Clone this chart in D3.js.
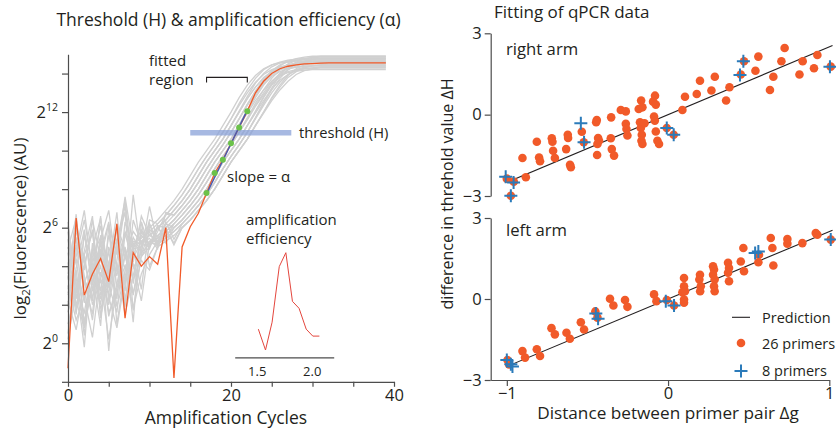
<!DOCTYPE html>
<html><head><meta charset="utf-8">
<script src="https://cdn.jsdelivr.net/npm/d3@7"></script>
<style>
body{margin:0;background:#fff;}
text{font-family:"Open Sans",sans-serif;fill:#231f20;}
</style></head><body>
<svg id="c" width="836" height="432"></svg>
<script>
// ---------------- Left panel data (log2 fluorescence per cycle 0..39) ----------------
const greyCurves = [
[2.8,5.9,3.5,1.2,4.7,6.3,2.9,4.6,5.15,5.45,5.8,6.2,6.65,7.15,7.7,8.35,9.05,9.7,10.3,10.95,11.65,12.45,13.15,13.75,14.2,14.45,14.6,14.7,14.75,14.8,14.8,14.8,14.8,14.8,14.8,14.8,14.8,14.8,14.8,14.8],
[4.2,1.5,5.8,3.0,6.6,2.2,5.0,3.9,5.0,5.3,5.6,6.0,6.4,6.9,7.4,8.0,8.7,9.4,10.0,10.6,11.3,12.0,12.7,13.3,13.75,14.05,14.2,14.3,14.35,14.4,14.4,14.4,14.4,14.4,14.4,14.4,14.4,14.4,14.4,14.4],
[6.1,3.4,0.8,4.9,2.7,5.6,4.0,1.9,5.3,5.15,5.9,5.5,6.2,6.65,7.15,7.7,8.35,9.05,9.7,10.3,10.95,11.65,12.4,13.05,13.65,14.05,14.3,14.45,14.52,14.57,14.6,14.6,14.6,14.6,14.6,14.6,14.6,14.6,14.6,14.6],
[1.9,4.8,6.9,3.7,5.2,-0.4,4.3,7.2,3.1,5.8,4.9,6.1,6.0,6.4,6.9,7.4,8.0,8.7,9.4,10.0,10.6,11.35,12.1,12.85,13.5,14.05,14.4,14.65,14.78,14.85,14.9,14.9,14.9,14.9,14.9,14.9,14.9,14.9,14.9,14.9],
[5.4,2.6,4.0,5.9,1.4,3.6,6.2,4.8,2.5,5.1,5.15,6.0,5.5,6.2,6.65,7.15,7.7,8.35,9.05,9.7,10.3,10.95,11.6,12.3,12.9,13.45,13.85,14.1,14.2,14.25,14.3,14.3,14.3,14.3,14.3,14.3,14.3,14.3,14.3,14.3],
[3.3,6.7,2.1,4.5,5.5,3.0,1.6,5.7,4.2,6.6,5.6,5.3,6.2,6.0,6.4,6.9,7.4,8.0,8.7,9.4,10.0,10.6,11.3,12.0,12.75,13.4,13.9,14.2,14.4,14.5,14.55,14.6,14.6,14.6,14.6,14.6,14.6,14.6,14.6,14.6],
[4.7,2.3,5.6,3.6,0.9,6.1,4.6,7.6,5.0,2.8,6.2,5.15,5.45,5.8,6.2,6.65,7.15,7.7,8.35,9.05,9.7,10.3,10.95,11.7,12.45,13.15,13.75,14.2,14.5,14.65,14.75,14.8,14.8,14.8,14.8,14.8,14.8,14.8,14.8,14.8],
[2.0,5.1,3.8,6.4,4.4,2.9,5.3,6.8,1.7,4.6,5.8,5.0,5.9,5.2,6.0,6.4,6.9,7.4,8.0,8.7,9.4,10.0,10.6,11.3,12.0,12.7,13.3,13.8,14.1,14.3,14.4,14.45,14.5,14.5,14.5,14.5,14.5,14.5,14.5,14.5],
[5.0,3.1,-0.2,4.9,6.5,3.4,5.9,4.5,5.8,5.2,6.0,6.4,6.9,7.4,8.0,8.7,9.4,10.0,10.6,11.3,12.0,12.75,13.4,13.9,14.25,14.45,14.55,14.6,14.65,14.65,14.65,14.65,14.65,14.65,14.65,14.65,14.65,14.65,14.65,14.65],
[3.6,6.0,4.3,2.2,5.4,6.9,3.7,4.9,1.1,6.3,5.0,5.8,6.7,6.65,7.15,7.7,8.35,9.05,9.7,10.3,10.95,11.65,12.35,12.95,13.45,13.85,14.1,14.25,14.32,14.37,14.4,14.4,14.4,14.4,14.4,14.4,14.4,14.4,14.4,14.4],
[6.3,1.8,4.6,5.7,3.3,2.6,5.2,7.4,3.9,4.7,5.15,5.45,5.8,6.2,6.65,7.15,7.7,8.35,9.05,9.7,10.3,10.95,11.7,12.45,13.15,13.75,14.2,14.5,14.68,14.78,14.82,14.85,14.85,14.85,14.85,14.85,14.85,14.85,14.85,14.85],
[0.5,3.9,5.9,2.7,4.4,6.2,1.0,3.8,5.5,4.7,7.1,5.15,6.3,5.4,6.2,6.65,7.15,7.7,8.35,9.05,9.7,10.3,10.95,11.65,12.35,13.0,13.55,13.95,14.2,14.33,14.4,14.45,14.45,14.45,14.45,14.45,14.45,14.45,14.45,14.45],
[4.9,6.5,3.2,1.5,5.6,4.1,2.3,6.3,5.0,5.9,5.1,6.0,6.4,6.9,7.4,8.0,8.7,9.4,10.0,10.6,11.3,12.05,12.8,13.5,14.0,14.35,14.55,14.65,14.7,14.75,14.75,14.75,14.75,14.75,14.75,14.75,14.75,14.75,14.75,14.75],
[2.5,4.5,6.4,3.9,2.0,5.0,3.5,5.8,4.9,5.0,6.2,5.0,6.0,6.4,6.9,7.4,8.0,8.7,9.4,10.0,10.6,11.3,11.95,12.6,13.15,13.6,13.9,14.05,14.13,14.17,14.2,14.2,14.2,14.2,14.2,14.2,14.2,14.2,14.2,14.2],
[5.8,2.9,4.8,6.6,1.3,4.2,5.4,3.0,7.7,4.5,5.0,6.1,5.2,6.0,6.4,6.9,7.4,8.0,8.7,9.4,10.0,10.6,11.3,12.05,12.8,13.5,14.0,14.35,14.55,14.65,14.7,14.7,14.7,14.7,14.7,14.7,14.7,14.7,14.7,14.7],
[3.4,5.5,0.9,4.1,6.1,3.6,5.0,2.1,4.8,6.3,4.0,5.0,6.0,5.1,6.0,6.4,6.9,7.4,8.0,8.7,9.4,10.0,10.6,11.3,12.0,12.75,13.4,13.9,14.25,14.45,14.55,14.6,14.6,14.6,14.6,14.6,14.6,14.6,14.6,14.6],
[1.6,3.8,0.4,5.2,2.5,3.9,6.8,2.2,5.15,4.8,6.4,6.2,6.65,7.15,7.7,8.35,9.05,9.7,10.3,10.95,11.65,12.35,13.0,13.55,13.95,14.2,14.35,14.45,14.5,14.55,14.55,14.55,14.55,14.55,14.55,14.55,14.55,14.55,14.55,14.55],
[2.2,0.7,3.1,4.4,1.8,3.0,5.1,2.7,6.4,5.15,5.45,4.9,6.8,6.65,7.15,7.7,8.35,9.05,9.7,10.3,10.95,11.65,12.4,13.1,13.7,14.15,14.45,14.6,14.68,14.72,14.75,14.75,14.75,14.75,14.75,14.75,14.75,14.75,14.75,14.75],
[3.0,1.2,2.4,0.3,3.7,2.0,4.2,1.5,3.5,5.6,5.15,5.45,5.8,6.2,6.65,7.15,7.7,8.35,9.05,9.7,10.3,10.95,11.65,12.35,13.0,13.6,14.0,14.3,14.45,14.5,14.55,14.55,14.55,14.55,14.55,14.55,14.55,14.55,14.55,14.55],
[1.0,2.7,4.6,2.0,3.3,0.2,2.9,4.0,1.8,3.6,4.6,5.3,5.6,6.0,6.4,6.9,7.4,8.0,8.7,9.4,10.0,10.6,11.3,11.95,12.6,13.2,13.65,13.95,14.15,14.25,14.3,14.35,14.35,14.35,14.35,14.35,14.35,14.35,14.35,14.35],
[2.6,4.4,1.1,3.2,5.3,2.4,0.8,3.4,4.1,2.2,5.2,5.15,5.45,5.8,6.2,6.65,7.15,7.7,8.35,9.05,9.7,10.3,10.95,11.7,12.5,13.25,13.9,14.35,14.6,14.75,14.85,14.9,14.9,14.9,14.9,14.9,14.9,14.9,14.9,14.9],
[4.0,1.9,3.3,2.4,4.9,1.4,3.1,5.0,2.6,4.3,3.8,5.0,5.3,5.6,6.0,6.4,6.9,7.4,8.0,8.7,9.4,10.0,10.6,11.3,11.95,12.6,13.15,13.6,13.95,14.15,14.25,14.3,14.3,14.3,14.3,14.3,14.3,14.3,14.3,14.3],
[0.2,2.8,1.6,3.9,2.3,4.8,1.9,3.5,4.4,5.3,5.6,6.0,6.4,6.9,7.4,8.0,8.7,9.4,10.0,10.6,11.3,12.0,12.7,13.3,13.8,14.1,14.3,14.4,14.45,14.5,14.5,14.5,14.5,14.5,14.5,14.5,14.5,14.5,14.5,14.5],
[3.9,2.1,0.9,2.9,4.0,1.6,2.6,4.5,3.3,4.5,5.3,5.6,6.0,6.4,6.9,7.4,8.0,8.7,9.4,10.0,10.6,11.3,12.0,12.75,13.4,13.9,14.25,14.45,14.55,14.6,14.65,14.65,14.65,14.65,14.65,14.65,14.65,14.65,14.65,14.65]
];
const orangeCurve = [-1.3,6.5,2.5,3.6,4.4,3.2,6.2,1.3,4.7,4.0,4.5,4.1,6.0,-1.8,5.0,6.05,6.75,7.8,8.84,9.53,10.38,11.2,12.05,13.0,13.6,14.0,14.25,14.38,14.45,14.5,14.52,14.54,14.56,14.56,14.56,14.56,14.56,14.56,14.56,14.56];
const fitCycles = [17, 22];
const fitValues = [7.75, 12.1];
const dotCycles = [17, 18, 19, 20, 21, 22];
const dotValues = [7.8, 8.84, 9.53, 10.38, 11.2, 12.05];
const thresholdCycles = [15, 27.4];
const thresholdLevel = 10.93;
const bracketCycles = [17, 22];
const bracketLevel = 13.8;
const xTicksLeft = [0,5,10,15,20,25,30,35,40];
const xTickLabelsLeft = {0:"0",20:"20",40:"40"};
const yTicksLeft = [-2,0,2,4,6,8,10,12,14];
const yTickLabelsLeft = {0:"0",6:"6",12:"12"};
// inset: amplification efficiency distribution
const effBins = [1.515,1.58,1.64,1.705,1.765,1.825,1.885,1.95,2.01,2.07];
const effCounts = [3,0,4,12,14,7,6,3,2,2];
const effTicks = [1.5, 2.0];

// ---------------- Right panel data ----------------
const rightArmX = [-0.903,-0.882,-0.814,-0.800,-0.794,-0.721,-0.717,-0.713,-0.702,-0.632,-0.622,-0.620,-0.608,-0.603,-0.535,-0.523,-0.442,-0.446,-0.434,-0.428,-0.438,-0.440,-0.353,-0.355,-0.349,-0.335,-0.293,-0.262,-0.262,-0.258,-0.252,-0.182,-0.174,-0.169,-0.163,-0.165,-0.159,-0.167,-0.146,-0.093,-0.081,-0.087,-0.082,-0.076,-0.066,-0.056,-0.159,-0.076,-0.008,0.035,0.089,0.105,0.178,0.198,0.269,0.290,0.360,0.381,0.451,0.471,0.542,0.560,0.632,0.653,0.703,0.723,0.815,0.835,0.905,0.926,1.009,-1.0,-0.975,-0.957];
const rightArmY = [-1.60,-2.31,-1.00,-1.58,-1.72,-0.87,-1.00,-1.33,-1.60,-1.27,-0.74,-0.86,-1.85,-1.94,-0.63,-1.02,-0.20,-0.28,-0.86,-0.96,-1.08,-1.49,-0.10,-0.87,-1.27,-1.51,0.17,0.12,-0.34,-0.53,-0.77,0.21,-0.28,-0.49,-0.74,-0.96,-1.08,0.52,-0.32,0.48,0.70,-0.07,-0.22,-0.62,-0.96,-1.08,0.27,0.37,-0.49,-0.74,0.17,0.66,0.76,1.25,0.89,1.40,0.52,1.01,1.48,1.97,1.62,2.14,0.91,1.40,1.97,2.46,1.48,1.97,1.71,2.20,1.77,-2.36,-2.99,-2.47];
const rightPlusX = [-1.007,-0.958,-0.975,-0.541,-0.521,-0.008,0.035,0.446,0.467,1.004];
const rightPlusY = [-2.29,-2.50,-2.99,-0.32,-1.02,-0.49,-0.74,1.46,1.97,1.77];
const leftArmX = [-0.996,-0.986,-0.903,-0.887,-0.814,-0.794,-0.723,-0.702,-0.630,-0.609,-0.541,-0.521,-0.451,-0.438,-0.360,-0.339,-0.267,-0.252,-0.087,-0.072,-0.008,0.037,0.089,0.099,0.099,0.099,0.099,0.105,0.198,0.194,0.203,0.199,0.279,0.285,0.279,0.289,0.285,0.289,0.372,0.378,0.372,0.378,0.451,0.471,0.467,0.564,0.560,0.637,0.647,0.653,0.740,0.740,0.833,0.916,0.926,1.009];
const leftArmY = [-2.26,-2.42,-1.93,-2.17,-1.86,-2.11,-1.08,-1.31,-1.25,-1.47,-0.86,-1.13,-0.46,-0.69,0.01,-0.24,-0.04,-0.29,0.17,-0.08,-0.04,-0.24,0.25,0.78,0.47,-0.02,-0.14,0.29,0.90,0.72,0.47,0.29,1.21,1.09,0.90,0.72,0.47,0.29,1.34,1.15,0.97,0.66,1.39,1.03,1.89,1.64,1.36,2.26,1.89,1.24,2.22,2.05,2.07,2.44,2.38,2.20];
const leftPlusX = [-1.0,-0.975,-0.965,-0.448,-0.434,-0.014,0.037,0.540,0.560,1.009];
const leftPlusY = [-2.26,-2.42,-2.50,-0.54,-0.73,-0.08,-0.24,1.70,1.76,2.20];
const predX = [-1, 1.02];
const predY = [-2.5, 2.55];
const xTicksRight = [-1, 0, 1];
const yTicksRight = [-3, 0, 3];
const legendLabels = ["Prediction", "26 primers", "8 primers"];

// ---------------- Drawing ----------------
const svg = d3.select("#c");
const ORANGE = "#f15a29", BLUE = "#2b7bba", GREY = "#d0d0d0", AXIS = "#4d4d4d";
const minus = s => String(s).replace("-", "\u2212");

// Left panel scales
const xL = d3.scaleLinear().domain([0, 40]).range([68, 394]);
const yL = d3.scaleLinear().domain([-2, 15]).range([381.8, 54.3]);

const lineL = d3.line().x((d, i) => xL(i)).y(d => yL(d));
const gL = svg.append("g");
gL.selectAll("path.grey").data(greyCurves).join("path")
  .attr("d", lineL).attr("fill", "none").attr("stroke", GREY).attr("stroke-width", 1.3);

// threshold band
gL.append("line")
  .attr("x1", xL(thresholdCycles[0])).attr("x2", xL(thresholdCycles[1]))
  .attr("y1", yL(thresholdLevel)).attr("y2", yL(thresholdLevel))
  .attr("stroke", "#8aa2d8").attr("stroke-opacity", 0.75).attr("stroke-width", 5.5);

gL.append("path").attr("d", lineL(orangeCurve)).attr("fill", "none")
  .attr("stroke", ORANGE).attr("stroke-width", 1.3);

gL.append("line")
  .attr("x1", xL(fitCycles[0])).attr("x2", xL(fitCycles[1]))
  .attr("y1", yL(fitValues[0])).attr("y2", yL(fitValues[1]))
  .attr("stroke", "#4a5db0").attr("stroke-width", 1.5);

gL.selectAll("circle.g").data(dotCycles).join("circle")
  .attr("cx", d => xL(d)).attr("cy", (d, i) => yL(dotValues[i])).attr("r", 3)
  .attr("fill", "#6cc24a");

// bracket
const by = yL(bracketLevel);
gL.append("path")
  .attr("d", `M${xL(bracketCycles[0])},${by + 5}V${by}H${xL(bracketCycles[1])}V${by + 5}`)
  .attr("fill", "none").attr("stroke", "#231f20").attr("stroke-width", 1.1);

// axes left
const axXL = d3.axisBottom(xL).tickValues(xTicksLeft).tickSize(5).tickSizeOuter(0)
  .tickFormat(d => xTickLabelsLeft[d] || "");
const gxL = svg.append("g").attr("transform", `translate(0,${yL(-2)})`).call(axXL);
const axYL = d3.axisLeft(yL).tickValues(yTicksLeft).tickSize(6).tickSizeOuter(0).tickFormat("");
const gyL = svg.append("g").attr("transform", `translate(${xL(0)},0)`).call(axYL);
[gxL, gyL].forEach(g => {
  g.selectAll("path,line").attr("stroke", AXIS).attr("stroke-width", 1.2);
  g.selectAll("text").style("font-size", "16.5px").attr("fill", "#231f20");
});
gxL.selectAll("text").attr("dy", "0.66em");
// y tick labels with superscripts
yTicksLeft.filter(t => yTickLabelsLeft[t] !== undefined).forEach(t => {
  const tx = svg.append("text").attr("x", 58).attr("y", yL(t) + 5.5)
    .attr("text-anchor", "end").style("font-size", "16.5px");
  tx.append("tspan").text("2");
  tx.append("tspan").attr("dy", -7).style("font-size", "10.5px").text(yTickLabelsLeft[t]);
});

// inset
const xI = d3.scaleLinear().domain([1.3, 2.2]).range([234.7, 333.7]);
const yI = d3.scaleLinear().domain([0, 14]).range([350, 252.7]);
svg.append("path").attr("d", d3.line().x((d, i) => xI(effBins[i])).y(d => yI(d))(effCounts))
  .attr("fill", "none").attr("stroke", "#e4463d").attr("stroke-width", 1);
const gI = svg.append("g").attr("transform", "translate(0,357.3)")
  .call(d3.axisBottom(xI).tickValues(effTicks).tickSize(0).tickSizeOuter(0).tickFormat(d3.format(".1f")));
gI.select("path").attr("stroke", AXIS).attr("stroke-width", 1.2);
gI.selectAll("text").style("font-size", "13px").attr("dy", "1.2em");

// left annotations
const ann = (x, y, s, size) => svg.append("text").attr("x", x).attr("y", y).style("font-size", size + "px").text(s);
ann(149, 66, "fitted", 15);
ann(149, 85, "region", 15);
ann(299, 138, "threshold (H)", 14.7);
ann(227, 182, "slope = α", 15);
ann(246, 225, "amplification", 15);
ann(246, 244, "efficiency", 15);
svg.append("text").attr("x", 228.5).attr("y", 25.5).attr("text-anchor", "middle")
  .style("font-size", "17.5px").text("Threshold (H) & amplification efficiency (α)");
svg.append("text").attr("x", 226).attr("y", 423.5).attr("text-anchor", "middle")
  .style("font-size", "17.5px").text("Amplification Cycles");
const yl = svg.append("text").attr("transform", "translate(26,228.5) rotate(-90)")
  .attr("text-anchor", "middle").style("font-size", "17px");
yl.append("tspan").text("log");
yl.append("tspan").attr("dy", 4).style("font-size", "11.5px").text("2");
yl.append("tspan").attr("dy", -4).text("(Fluorescence) (AU)");

// ---------------- Right panel ----------------
const xR = d3.scaleLinear().domain([-1.1, 1]).range([490.7, 829.3]);
const yTop = d3.scaleLinear().domain([-3, 3]).range([196, 33.3]);
const yBot = d3.scaleLinear().domain([-3, 3]).range([380, 218]);

function panel(yS, px, py, plx, ply, label, ly) {
  const g = svg.append("g");
  g.append("line").attr("x1", xR(predX[0])).attr("x2", xR(predX[1]))
    .attr("y1", yS(predY[0])).attr("y2", yS(predY[1]))
    .attr("stroke", "#231f20").attr("stroke-width", 1.1);
  g.selectAll("circle").data(px).join("circle")
    .attr("cx", d => xR(d)).attr("cy", (d, i) => yS(py[i])).attr("r", 4.3).attr("fill", ORANGE);
  const plus = g.selectAll("g.p").data(plx).join("g")
    .attr("transform", (d, i) => `translate(${xR(d)},${yS(ply[i])})`);
  plus.append("path").attr("d", "M-6.5,0H6.5M0,-6.5V6.5").attr("stroke", BLUE).attr("stroke-width", 2);
  const ay = svg.append("g").attr("transform", `translate(${xR(-1.1)},0)`)
    .call(d3.axisLeft(yS).tickValues(yTicksRight).tickSize(6).tickSizeOuter(0).tickFormat(minus));
  ay.selectAll("path,line").attr("stroke", AXIS).attr("stroke-width", 1.2);
  ay.selectAll("text").style("font-size", "16.5px").attr("fill", "#231f20");
  svg.append("text").attr("x", 506).attr("y", ly).style("font-size", "16.7px").text(label);
}
panel(yTop, rightArmX, rightArmY, rightPlusX, rightPlusY, "right arm", 55);
panel(yBot, leftArmX, leftArmY, leftPlusX, leftPlusY, "left arm", 236);

const axR = svg.append("g").attr("transform", `translate(0,${yBot(-3)})`)
  .call(d3.axisBottom(xR).tickValues(xTicksRight).tickSize(6).tickSizeOuter(0).tickFormat(minus));
axR.selectAll("path,line").attr("stroke", AXIS).attr("stroke-width", 1.2);
axR.selectAll("text").style("font-size", "16.5px").attr("fill", "#231f20").attr("dy", "0.58em");

svg.append("text").attr("x", 494).attr("y", 17.5).style("font-size", "17px").text("Fitting of qPCR data");
svg.append("text").attr("x", 668).attr("y", 419).attr("text-anchor", "middle")
  .style("font-size", "17.2px").text("Distance between primer pair Δg");
svg.append("text").attr("transform", "translate(453,194) rotate(-90)").attr("text-anchor", "middle")
  .style("font-size", "16px").text("difference in threhold value ΔH");

// legend
const lg = svg.append("g");
lg.append("line").attr("x1", 732).attr("x2", 750).attr("y1", 317.3).attr("y2", 317.3)
  .attr("stroke", "#231f20").attr("stroke-width", 1.1);
lg.append("circle").attr("cx", 741).attr("cy", 343).attr("r", 4.3).attr("fill", ORANGE);
lg.append("path").attr("d", "M734.5,371H747.5M741,364.5V377.5").attr("stroke", BLUE).attr("stroke-width", 2);
legendLabels.forEach((s, i) => {
  lg.append("text").attr("x", 762).attr("y", [323, 349, 376][i]).style("font-size", "14.5px").text(s);
});
</script>
</body></html>
